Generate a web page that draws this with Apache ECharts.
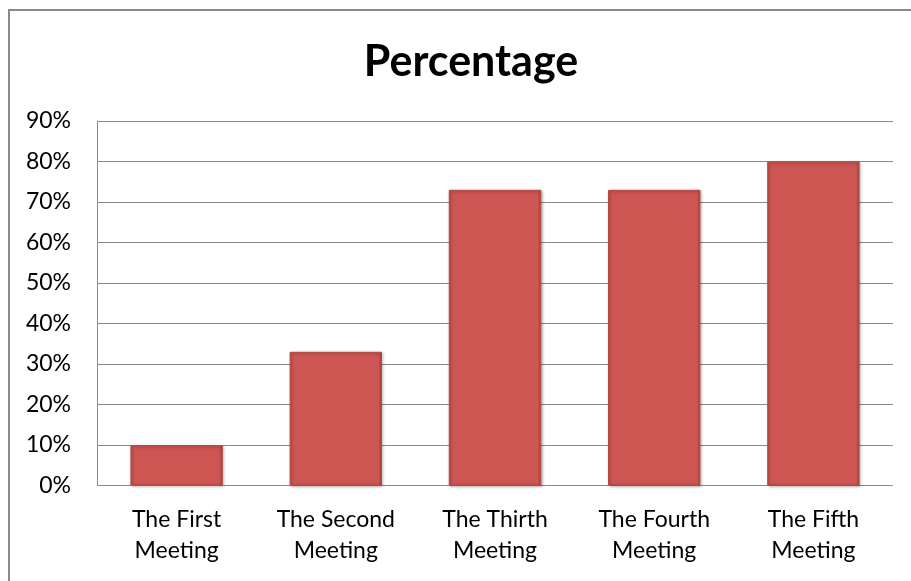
<!DOCTYPE html>
<html>
<head>
<meta charset="utf-8">
<script src="https://cdn.jsdelivr.net/npm/echarts@6/dist/echarts.min.js"></script>
<style>
  html, body { margin: 0; padding: 0; background: #fff; }
  #frame { position: absolute; left: 8px; top: 9px; width: 920px; height: 600px;
           border-left: 2px solid #8a8a8a; border-top: 2px solid #8a8a8a; }
  #chart { position: absolute; left: 0; top: 0; width: 911px; height: 581px; }
</style>
</head>
<body>
<div id="frame"></div>
<div id="chart"></div>
<script>
  // 数据
  const categories = ['The First\nMeeting', 'The Second\nMeeting', 'The Thirth\nMeeting', 'The Fourth\nMeeting', 'The Fifth\nMeeting']
  const percentValues = [10, 33, 73, 73, 80]
  const yTicks = { min: 0, max: 90, interval: 10 }

  const font = 'Lato, "Open Sans", sans-serif'
  const chartObj = echarts.init(document.getElementById('chart'))
  const option = {
    animation: false,
    title: {
      text: 'Percentage',
      left: 466,
      textAlign: 'center',
      top: 36,
      textStyle: { fontFamily: font, fontSize: 43, fontWeight: 'bold', color: '#000' }
    },
    grid: { left: 97, right: 18, top: 121, bottom: 95.5, containLabel: false },
    xAxis: {
      type: 'category',
      data: categories,
      axisLine: { show: false },
      axisTick: { show: false },
      axisLabel: { fontFamily: font, fontSize: 23, color: '#000', lineHeight: 31, margin: 19 }
    },
    yAxis: {
      type: 'value',
      min: yTicks.min,
      max: yTicks.max,
      interval: yTicks.interval,
      axisLine: { show: true, lineStyle: { color: '#8a8a8a', width: 1 } },
      axisTick: { show: false },
      splitLine: { lineStyle: { color: '#8a8a8a', width: 1 } },
      axisLabel: { fontFamily: font, fontSize: 23, color: '#000', margin: 26, formatter: '{value}%' }
    },
    series: [{
      type: 'bar',
      data: percentValues,
      barWidth: '58%',
      itemStyle: {
        color: {
          type: 'linear', x: 0, y: 0, x2: 1, y2: 0,
          colorStops: [
            { offset: 0, color: '#c24d4a' },
            { offset: 0.04, color: '#cd5653' },
            { offset: 0.96, color: '#cd5653' },
            { offset: 1, color: '#a94240' }
          ]
        },
        borderColor: '#b34a47',
        borderWidth: 1,
        shadowColor: 'rgba(0,0,0,0.35)',
        shadowBlur: 3,
        shadowOffsetX: 1,
        shadowOffsetY: 1
      }
    }]
  }
  chartObj.setOption(option)
</script>
</body>
</html>
